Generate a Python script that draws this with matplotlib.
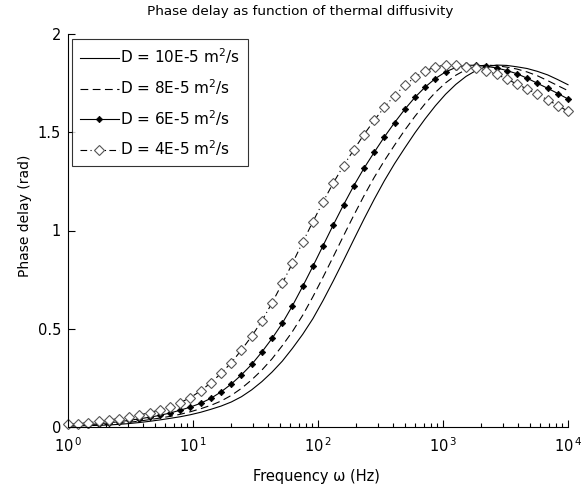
import numpy as np
import matplotlib
matplotlib.use("Agg")
import matplotlib.pyplot as plt
from matplotlib.ticker import LogLocator, NullFormatter, FixedLocator

plt.rcParams['font.family'] = ['DejaVu Sans']
plt.rcParams['mathtext.fontset'] = 'dejavusans'

# Frequency sample grid (50 log-spaced points from 1 to 1e4 Hz)
freq = np.logspace(0, 4, 50)

phase_d10 = [0.0048, 0.0058, 0.0071, 0.0085, 0.0104, 0.0135, 0.0176, 0.0227, 0.0289, 0.036,
             0.044, 0.0522, 0.0625, 0.0749, 0.090, 0.1065, 0.1272, 0.1542, 0.1891, 0.231,
             0.2797, 0.3351, 0.4007, 0.4717, 0.5514, 0.6443, 0.7438, 0.8471, 0.953, 1.0575,
             1.1579, 1.2529, 1.3399, 1.4197, 1.4969, 1.5683, 1.6344, 1.6933, 1.7432, 1.784,
             1.8146, 1.8341, 1.8419, 1.8401, 1.833, 1.8243, 1.8099, 1.792, 1.7678, 1.7419]

phase_d8 = [0.0061, 0.0073, 0.0088, 0.0109, 0.0142, 0.0186, 0.0239, 0.0302, 0.0375, 0.0455,
            0.0541, 0.0647, 0.0777, 0.093, 0.1102, 0.1321, 0.1606, 0.1968, 0.240, 0.2898,
            0.3473, 0.4138, 0.4863, 0.5687, 0.6629, 0.7631, 0.8671, 0.9728, 1.0765, 1.176,
            1.2695, 1.355, 1.4343, 1.5105, 1.5809, 1.6457, 1.7029, 1.7511, 1.790, 1.8186,
            1.8358, 1.8417, 1.8388, 1.8315, 1.8216, 1.8067, 1.7875, 1.7629, 1.7372, 1.7116]

phase_d6 = [0.0081, 0.0097, 0.0125, 0.0164, 0.0212, 0.0271, 0.0339, 0.0417, 0.0497, 0.0594,
            0.0711, 0.0856, 0.1015, 0.1209, 0.1459, 0.1787, 0.2186, 0.2655, 0.3185, 0.3818,
            0.451, 0.5278, 0.6176, 0.7155, 0.8178, 0.9234, 1.0285, 1.1301, 1.2269, 1.3162,
            1.3974, 1.4758, 1.5487, 1.6165, 1.6776, 1.730, 1.7734, 1.807, 1.8297, 1.8406,
            1.8412, 1.8351, 1.8273, 1.8142, 1.7977, 1.7748, 1.7491, 1.7239, 1.6972, 1.6694]

phase_d4 = [0.013, 0.017, 0.022, 0.028, 0.035, 0.043, 0.051, 0.061, 0.073, 0.088,
            0.104, 0.124, 0.150, 0.184, 0.225, 0.273, 0.327, 0.392, 0.462, 0.540,
            0.632, 0.731, 0.834, 0.940, 1.045, 1.146, 1.242, 1.330, 1.410, 1.488,
            1.560, 1.627, 1.687, 1.738, 1.780, 1.812, 1.833, 1.842, 1.841, 1.834,
            1.826, 1.812, 1.795, 1.771, 1.745, 1.720, 1.693, 1.665, 1.636, 1.607]

labels = ['D = 10E-5 m$^2$/s', 'D = 8E-5 m$^2$/s', 'D = 6E-5 m$^2$/s', 'D = 4E-5 m$^2$/s']
title = 'Phase delay as function of thermal diffusivity'
xlabel = 'Frequency ω (Hz)'
ylabel = 'Phase delay (rad)'
yticks = [0, 0.5, 1, 1.5, 2]
yticklabels = ['0', '0.5', '1', '1.5', '2']
xticks = [1, 10, 100, 1000, 10000]
xticklabels = ['10$^{\\,0}$', '10$^{\\,1}$', '10$^{\\,2}$', '10$^{\\,3}$', '10$^{\\,4}$']

W, H = 587, 488
fig = plt.figure(figsize=(W / 100, H / 100), dpi=100)
ax = fig.add_axes([68 / W, 1 - 427 / H, 500 / W, 393 / H])

lw = 0.8
ax.plot(freq, phase_d10, color='black', lw=lw, ls='-', label=labels[0], clip_on=False)
ax.plot(freq, phase_d8, color='black', lw=lw, ls=(0, (7, 4)), label=labels[1], clip_on=False)
ax.plot(freq, phase_d6, color='black', lw=lw, ls='-', marker='D', markersize=3.3,
        markerfacecolor='black', markeredgecolor='black', markeredgewidth=0.5,
        label=labels[2], clip_on=False)
ax.plot(freq, phase_d4, color='black', lw=lw, ls=(0, (6, 3, 1, 3)), marker='D', markersize=5,
        markerfacecolor='white', markeredgecolor='#555555', markeredgewidth=0.8,
        label=labels[3], clip_on=False)

ax.set_xscale('log')
ax.set_xlim(1, 1e4)
ax.set_ylim(0, 2)
ax.xaxis.set_major_locator(FixedLocator(xticks))
ax.set_xticklabels(xticklabels)
ax.xaxis.set_minor_locator(LogLocator(base=10, subs=np.arange(2, 10), numticks=20))
ax.xaxis.set_minor_formatter(NullFormatter())
ax.set_yticks(yticks)
ax.set_yticklabels(yticklabels)

for s in ['top', 'right']:
    ax.spines[s].set_visible(False)
for s in ['left', 'bottom']:
    ax.spines[s].set_linewidth(0.8)

ax.tick_params(axis='both', which='major', direction='in', length=5, width=0.8,
               labelsize=10.5)
ax.tick_params(axis='x', which='major', pad=7)
ax.tick_params(axis='y', which='major', pad=5)
ax.tick_params(axis='x', which='minor', direction='in', length=3, width=0.8)

fig.text(300 / W, 1 - 12 / H, title, fontsize=9.7, ha='center', va='center')
ax.set_xlabel(xlabel, fontsize=10.5)
ax.xaxis.set_label_coords((316 - 68) / 500, -(476 - 427) / 393)
ax.xaxis.label.set_va('center')
ax.set_ylabel(ylabel, fontsize=10)
ax.yaxis.set_label_coords(-(68 - 25) / 500, (427 - 216) / 393)
ax.yaxis.label.set_va('center')

leg = ax.legend(loc='upper left', bbox_to_anchor=(4 / 500, 1 - 5 / 393), borderaxespad=0,
                fontsize=11, frameon=True, fancybox=False, handlelength=2.55,
                handletextpad=0.12, labelspacing=0.72, borderpad=0.5)
leg.get_frame().set_edgecolor('black')
leg.get_frame().set_linewidth(0.8)

fig.savefig('out.png', dpi=100)
